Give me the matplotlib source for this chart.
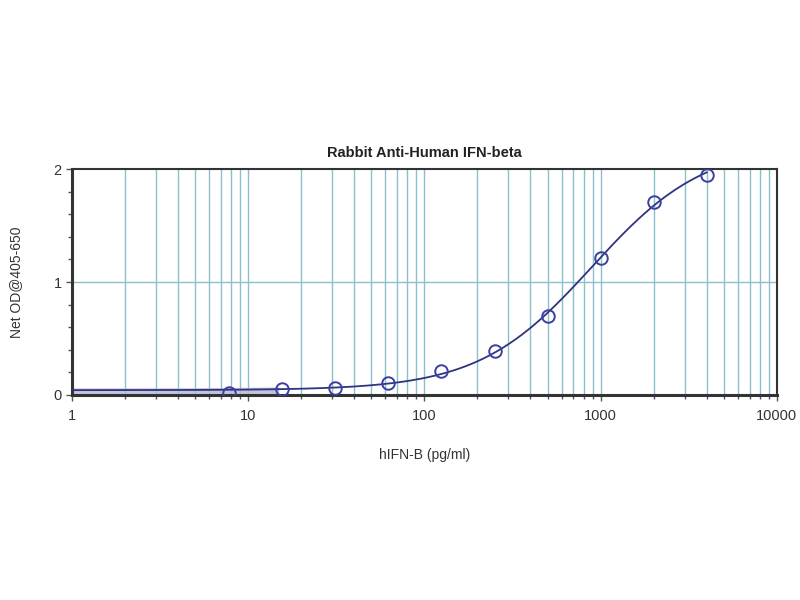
import numpy as np
import matplotlib
matplotlib.use("Agg")
import matplotlib.pyplot as plt
from matplotlib.ticker import LogLocator, MultipleLocator, NullFormatter, FixedLocator, FixedFormatter

plt.rcParams['font.family'] = ['Liberation Sans', 'DejaVu Sans']

# data
conc = [7.8, 15.6, 31.25, 62.5, 125, 250, 500, 1000, 2000, 4000]
od = [0.02, 0.05, 0.065, 0.11, 0.21, 0.39, 0.70, 1.21, 1.71, 1.95]
x_ticks = [1, 10, 100, 1000, 10000]
x_tick_labels = ["1", "10", "100", "1000", "10000"]
y_ticks = [0, 1, 2]
title = "Rabbit Anti-Human IFN-beta"
xlabel = "hIFN-B (pg/ml)"
ylabel = "Net OD@405-650"

# 4-parameter logistic fit (grid over C, B; linear solve for A, D)
xd = np.array(conc, float)
yd = np.array(od, float)
best = None
for C in np.logspace(2.5, 3.8, 200):
    for B in np.linspace(0.6, 2.5, 120):
        w = 1.0 / (1.0 + (xd / C) ** B)
        M = np.column_stack([w, 1 - w])
        coef, *_ = np.linalg.lstsq(M, yd, rcond=None)
        r = np.sum((M @ coef - yd) ** 2)
        if best is None or r < best[0]:
            best = (r, C, B, coef)
_, C, B, (A, D) = best

xc = np.logspace(0, np.log10(4000), 400)
yc = D + (A - D) / (1 + (xc / C) ** B)

fig = plt.figure(figsize=(8, 6), dpi=100)
ax = fig.add_axes([0.09, 0.3417, 0.881, 0.3766])

grid_color = "#8cbfcc"
ax.set_xscale("log")
ax.set_xlim(1, 10000)
ax.set_ylim(0, 2)

# gridlines
ax.xaxis.set_major_locator(FixedLocator(x_ticks))
ax.xaxis.set_major_formatter(FixedFormatter(x_tick_labels))
ax.xaxis.set_minor_locator(LogLocator(base=10, subs=np.arange(2, 10)))
ax.xaxis.set_minor_formatter(NullFormatter())
ax.grid(True, which="both", axis="x", color=grid_color, lw=1.0)
ax.yaxis.set_major_locator(FixedLocator(y_ticks))
ax.yaxis.set_minor_locator(MultipleLocator(0.2))
ax.axhline(1, color=grid_color, lw=1.0, zorder=1)

mask = xc <= 15
ax.fill_between(xc[mask], 0, yc[mask] + 0.02, color="#b9b9d6", alpha=0.85, lw=0, zorder=2)
ax.plot(xc, yc, color="#2e3580", lw=1.3, zorder=3)
ax.plot(conc, od, "o", mfc="none", mec="#3b3fa0", mew=1.4, ms=9, zorder=4)

for s in ax.spines.values():
    s.set_color("#333333")
    s.set_linewidth(1.5)
ax.spines["left"].set_linewidth(2.2)
ax.spines["bottom"].set_linewidth(2.2)

ax.tick_params(axis="both", which="major", length=4, width=1, color="#555555",
               labelsize=10.5, labelcolor="#333333", direction="out")
ax.tick_params(axis="both", which="minor", length=3, width=1, color="#555555", direction="out")
ax.tick_params(axis="x", pad=6)

ax.set_title(title, fontsize=10.5, fontweight="bold", color="#222222", pad=9)
ax.set_xlabel(xlabel, fontsize=10, color="#333333", labelpad=18)
ax.set_ylabel(ylabel, fontsize=10, color="#333333", labelpad=22)

fig.savefig("out.png", dpi=100)
